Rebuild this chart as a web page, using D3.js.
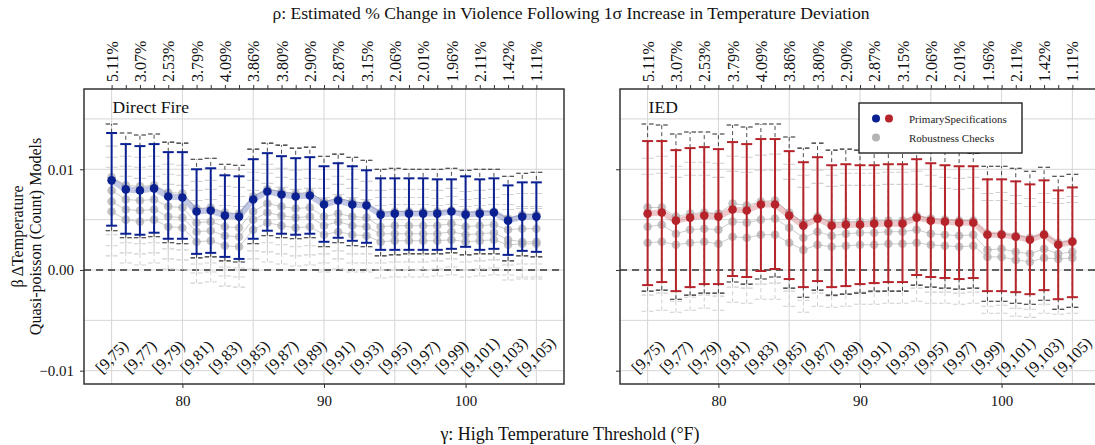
<!DOCTYPE html>
<html>
<head>
<meta charset="utf-8">
<script src="https://cdnjs.cloudflare.com/ajax/libs/d3/7.8.5/d3.min.js"></script>
<style>
  body { margin: 0; background: #fff; }
  svg { display: block; }
  svg text { font-family: "Liberation Serif", "Times New Roman", serif; }
</style>
</head>
<body>
<svg id="chart" width="1095" height="445"></svg>
<script>
"use strict";

// thresholds (gamma) and labels
var thresholds = [75,76,77,78,79,80,81,82,83,84,85,86,87,88,89,90,91,92,93,94,95,96,97,98,99,100,101,102,103,104,105];
var labelThresholds = [75,77,79,81,83,85,87,89,91,93,95,97,99,101,103,105];
var pctLabels = ["5.11%","3.07%","2.53%","3.79%","4.09%","3.86%","3.80%","2.90%","2.87%","3.15%","2.06%","2.01%","1.96%","2.11%","1.42%","1.11%"];
var binLabels = ["[9,75)","[9,77)","[9,79)","[9,81)","[9,83)","[9,85)","[9,87)","[9,89)","[9,91)","[9,93)","[9,95)","[9,97)","[9,99)","[9,101)","[9,103)","[9,105)"];
var yTicks = [-0.01, 0, 0.01];
var xTicks = [80, 90, 100];

// Direct Fire - primary specification
var dfEst = [0.0089,0.0080,0.0079,0.0081,0.0073,0.0072,0.0058,0.0059,0.0054,0.0053,0.0070,0.0078,0.0075,0.0073,0.0074,0.0065,0.0069,0.0065,0.0064,0.0055,0.0056,0.0056,0.0056,0.0056,0.0058,0.0055,0.0056,0.0057,0.0049,0.0053,0.0053];
var dfHi  = [0.0136,0.0125,0.0123,0.0125,0.0117,0.0117,0.0100,0.0101,0.0094,0.0093,0.0110,0.0116,0.0113,0.0111,0.0112,0.0103,0.0106,0.0103,0.0099,0.0091,0.0091,0.0091,0.0091,0.0090,0.0090,0.0093,0.0090,0.0091,0.0084,0.0087,0.0087];
var dfLo  = [0.0044,0.0036,0.0035,0.0037,0.0031,0.0031,0.0016,0.0017,0.0013,0.0011,0.0031,0.0039,0.0036,0.0035,0.0036,0.0028,0.0032,0.0029,0.0027,0.0020,0.0020,0.0020,0.0020,0.0020,0.0021,0.0023,0.0020,0.0021,0.0015,0.0019,0.0018];
// Direct Fire - robustness checks
var dfRob1 = [0.0092,0.0084,0.0083,0.0084,0.0077,0.0076,0.0061,0.0062,0.0057,0.0056,0.0073,0.0080,0.0078,0.0076,0.0077,0.0068,0.0071,0.0068,0.0066,0.0057,0.0058,0.0058,0.0058,0.0058,0.0059,0.0057,0.0058,0.0058,0.0051,0.0055,0.0055];
var dfRob2 = [0.0079,0.0070,0.0069,0.0070,0.0063,0.0062,0.0047,0.0048,0.0043,0.0042,0.0058,0.0066,0.0063,0.0061,0.0062,0.0053,0.0056,0.0053,0.0052,0.0043,0.0044,0.0044,0.0044,0.0044,0.0046,0.0043,0.0044,0.0045,0.0040,0.0041,0.0041];
var dfRob3 = [0.0068,0.0060,0.0059,0.0060,0.0053,0.0052,0.0038,0.0039,0.0034,0.0033,0.0050,0.0057,0.0054,0.0052,0.0053,0.0044,0.0048,0.0044,0.0043,0.0036,0.0036,0.0036,0.0036,0.0036,0.0038,0.0035,0.0036,0.0037,0.0030,0.0028,0.0028];
var dfRob4 = [0.0058,0.0050,0.0048,0.0050,0.0043,0.0042,0.0028,0.0029,0.0024,0.0023,0.0040,0.0047,0.0044,0.0042,0.0043,0.0035,0.0038,0.0035,0.0034,0.0028,0.0029,0.0029,0.0029,0.0029,0.0030,0.0028,0.0029,0.0030,0.0025,0.0026,0.0026];
var dfRobHalf = [0.0044,0.0043,0.0043,0.0043,0.0042,0.0042,0.0041,0.0041,0.0040,0.0040,0.0039,0.0039,0.0038,0.0038,0.0038,0.0037,0.0037,0.0037,0.0036,0.0036,0.0036,0.0036,0.0036,0.0035,0.0035,0.0035,0.0035,0.0035,0.0035,0.0035,0.0035];
var dfOuterHalf = [0.0053,0.0052,0.0051,0.0051,0.0050,0.0050,0.0049,0.0049,0.0048,0.0048,0.0047,0.0046,0.0046,0.0045,0.0045,0.0045,0.0044,0.0044,0.0043,0.0043,0.0043,0.0042,0.0042,0.0042,0.0042,0.0042,0.0042,0.0042,0.0042,0.0041,0.0042];

// IED - primary specification
var iedEst = [0.0056,0.0057,0.0049,0.0052,0.0054,0.0053,0.0060,0.0059,0.0065,0.0065,0.0054,0.0044,0.0051,0.0044,0.0045,0.0045,0.0046,0.0046,0.0046,0.0052,0.0049,0.0048,0.0047,0.0047,0.0035,0.0035,0.0033,0.0030,0.0035,0.0025,0.0028];
var iedHi  = [0.0128,0.0128,0.0119,0.0121,0.0122,0.0120,0.0127,0.0125,0.0130,0.0130,0.0118,0.0107,0.0112,0.0104,0.0105,0.0104,0.0104,0.0105,0.0105,0.0110,0.0106,0.0104,0.0103,0.0103,0.0090,0.0090,0.0088,0.0085,0.0089,0.0079,0.0082];
var iedLo  = [-0.0015,-0.0012,-0.0021,-0.0017,-0.0014,-0.0014,-0.0006,-0.0007,-0.0001,0.0001,-0.0009,-0.0017,-0.0011,-0.0017,-0.0016,-0.0014,-0.0013,-0.0012,-0.0012,-0.0005,-0.0007,-0.0008,-0.0009,-0.0008,-0.0021,-0.0021,-0.0022,-0.0024,-0.0020,-0.0029,-0.0027];
// IED - robustness checks
var iedRob1 = [0.0062,0.0062,0.0053,0.0056,0.0057,0.0056,0.0066,0.0064,0.0068,0.0069,0.0057,0.0047,0.0053,0.0047,0.0048,0.0048,0.0049,0.0049,0.0049,0.0054,0.0051,0.0050,0.0049,0.0049,0.0036,0.0036,0.0034,0.0032,0.0036,0.0027,0.0029];
var iedRob2 = [0.0043,0.0045,0.0036,0.0040,0.0041,0.0040,0.0048,0.0047,0.0050,0.0051,0.0042,0.0032,0.0038,0.0034,0.0036,0.0037,0.0037,0.0038,0.0038,0.0040,0.0036,0.0035,0.0034,0.0035,0.0020,0.0021,0.0018,0.0016,0.0021,0.0016,0.0018];
var iedRob3 = [0.0027,0.0028,0.0025,0.0027,0.0028,0.0026,0.0033,0.0032,0.0035,0.0035,0.0027,0.0020,0.0025,0.0023,0.0024,0.0025,0.0025,0.0026,0.0026,0.0027,0.0025,0.0024,0.0023,0.0024,0.0013,0.0013,0.0010,0.0008,0.0012,0.0011,0.0012];
var iedRobHalf = [0.0068,0.0068,0.0067,0.0067,0.0066,0.0066,0.0065,0.0065,0.0064,0.0064,0.0063,0.0062,0.0061,0.0060,0.0060,0.0059,0.0059,0.0059,0.0059,0.0058,0.0058,0.0057,0.0057,0.0057,0.0056,0.0056,0.0056,0.0055,0.0055,0.0055,0.0055];
var iedOuterHalf = [0.0083,0.0082,0.0082,0.0081,0.0080,0.0079,0.0078,0.0078,0.0077,0.0076,0.0075,0.0074,0.0073,0.0072,0.0072,0.0071,0.0070,0.0070,0.0070,0.0069,0.0068,0.0068,0.0068,0.0067,0.0067,0.0067,0.0067,0.0066,0.0066,0.0066,0.0066];

var Chart = (function(){
	var svg = {},
		top = 89,
		bottom = 384,
		panelW = 480,
		y = d3.scaleLinear().domain([-0.01132, 0.01797]).range([bottom, top]);

	function init(el) {
		svg = d3.select("#" + el);

		drawPanel({
			left: 84, name: "Direct Fire", color: "#0b2191",
			est: dfEst, lo: dfLo, hi: dfHi,
			robust: [dfRob1, dfRob2, dfRob3, dfRob4],
			robHalf: dfRobHalf, outerHalf: dfOuterHalf, yLabels: true
		});
		drawPanel({
			left: 620, name: "IED", color: "#b5242a",
			est: iedEst, lo: iedLo, hi: iedHi,
			robust: [iedRob1, iedRob2, iedRob3],
			robHalf: iedRobHalf, outerHalf: iedOuterHalf, yLabels: false
		});
		drawLegend();
		drawTitles();
	}

	// d3 axes put sans-serif on the group, strip it so the serif face is used
	function styleAxis(a, size) {
		a.attr("font-family", null).attr("font-size", size);
		a.select(".domain").remove();
		a.selectAll("line").attr("stroke", "#333");
		a.selectAll("text").attr("fill", "#111");
	}

	function drawPanel(p) {
		var x = d3.scaleLinear().domain([73.05, 106.95]).range([p.left, p.left + panelW]);
		var g = svg.append("g");

		// grid
		var grid = g.append("g");
		grid.selectAll("line.gy")
			.data([-0.01, -0.005, 0, 0.005, 0.01, 0.015])
			.enter().append("line")
			.attr("x1", p.left).attr("x2", p.left + panelW)
			.attr("y1", function(d) { return y(d); })
			.attr("y2", function(d) { return y(d); })
			.attr("stroke", "#d6d6d6").attr("stroke-width", 1);
		grid.selectAll("line.gx")
			.data([75, 80, 85, 90, 95, 100, 105])
			.enter().append("line")
			.attr("y1", top).attr("y2", bottom)
			.attr("x1", function(d) { return x(d); })
			.attr("x2", function(d) { return x(d); })
			.attr("stroke", "#d6d6d6").attr("stroke-width", 1);

		// zero line
		g.append("line")
			.attr("x1", p.left).attr("x2", p.left + panelW)
			.attr("y1", y(0)).attr("y2", y(0))
			.attr("stroke", "#333").attr("stroke-width", 1.4)
			.attr("stroke-dasharray", "7,5");

		// robustness intervals: light ones first, then the dark dashed one
		var rob = g.append("g");
		for (var s = p.robust.length - 1; s >= 0; s--) {
			var series = p.robust[s],
				half = s === 0 ? p.outerHalf : p.robHalf,
				col = s === 0 ? "#222" : "#cfcfcf",
				capCol = s === 0 ? "#222" : "#d0d0d0";
			var bars = rob.append("g").selectAll("g")
				.data(thresholds)
				.enter().append("g");
			bars.append("line")
				.attr("x1", function(d) { return x(d); })
				.attr("x2", function(d) { return x(d); })
				.attr("y1", function(d, i) { return y(series[i] - half[i]); })
				.attr("y2", function(d, i) { return y(series[i] + half[i]); })
				.attr("stroke", col).attr("stroke-width", 1)
				.attr("stroke-dasharray", "4,3")
				.attr("opacity", s === 0 ? 0.8 : 1);
			[-1, 1].forEach(function(sign) {
				bars.append("line")
					.attr("x1", function(d) { return x(d) - 6; })
					.attr("x2", function(d) { return x(d) + 6; })
					.attr("y1", function(d, i) { return y(series[i] + sign * half[i]); })
					.attr("y2", function(d, i) { return y(series[i] + sign * half[i]); })
					.attr("stroke", capCol).attr("stroke-width", 1.1)
					.attr("stroke-dasharray", "4.5,3");
			});
		}

		// robustness lines and points
		p.robust.forEach(function(series) {
			var line = d3.line()
				.x(function(d) { return x(d); })
				.y(function(d, i) { return y(series[i]); });
			rob.append("path")
				.attr("d", line(thresholds))
				.attr("fill", "none")
				.attr("stroke", "#cccccc").attr("stroke-width", 1);
		});
		p.robust.forEach(function(series) {
			rob.append("g").selectAll("circle")
				.data(thresholds)
				.enter().append("circle")
				.attr("cx", function(d) { return x(d); })
				.attr("cy", function(d, i) { return y(series[i]); })
				.attr("r", 4.3)
				.attr("fill", "#a9a9a9").attr("opacity", 0.7);
		});

		// primary specification
		var prim = g.append("g");
		prim.append("path")
			.attr("d", d3.line()
				.x(function(d) { return x(d); })
				.y(function(d, i) { return y(p.est[i]); })(thresholds))
			.attr("fill", "none")
			.attr("stroke", p.color).attr("stroke-opacity", 0.25)
			.attr("stroke-width", 6).attr("stroke-linejoin", "round");
		var eb = prim.selectAll("g.eb")
			.data(thresholds)
			.enter().append("g");
		eb.append("line")
			.attr("x1", function(d) { return x(d); })
			.attr("x2", function(d) { return x(d); })
			.attr("y1", function(d, i) { return y(p.lo[i]); })
			.attr("y2", function(d, i) { return y(p.hi[i]); })
			.attr("stroke", p.color).attr("stroke-width", 2);
		[p.lo, p.hi].forEach(function(arr) {
			eb.append("line")
				.attr("x1", function(d) { return x(d) - 5.5; })
				.attr("x2", function(d) { return x(d) + 5.5; })
				.attr("y1", function(d, i) { return y(arr[i]); })
				.attr("y2", function(d, i) { return y(arr[i]); })
				.attr("stroke", p.color).attr("stroke-width", 2);
		});
		prim.selectAll("circle")
			.data(thresholds)
			.enter().append("circle")
			.attr("cx", function(d) { return x(d); })
			.attr("cy", function(d, i) { return y(p.est[i]); })
			.attr("r", 4.3)
			.attr("fill", p.color);

		// bin labels inside panel
		g.append("g").selectAll("text")
			.data(labelThresholds)
			.enter().append("text")
			.attr("transform", function(d) { return "translate(" + x(d) + "," + y(-0.0086) + ") rotate(-45)"; })
			.attr("text-anchor", "middle")
			.attr("dy", "0.35em")
			.attr("font-size", 16)
			.attr("fill", "#111")
			.text(function(d, i) { return binLabels[i]; });

		// panel name
		g.append("text")
			.attr("x", x(75) + 1).attr("y", 113)
			.attr("font-size", 17.5).attr("fill", "#111")
			.text(p.name);

		// border
		g.append("rect")
			.attr("x", p.left).attr("y", top)
			.attr("width", panelW).attr("height", bottom - top)
			.attr("fill", "none").attr("stroke", "#333").attr("stroke-width", 1.5);

		// axes
		var topAxis = d3.axisTop(x)
			.tickValues(thresholds)
			.tickSize(4)
			.tickFormat(function(d) {
				var k = labelThresholds.indexOf(d);
				return k < 0 ? "" : pctLabels[k];
			});
		var ta = g.append("g").attr("transform", "translate(0," + top + ")").call(topAxis);
		styleAxis(ta, 16);
		ta.selectAll("text")
			.attr("transform", "rotate(-90)")
			.attr("x", 7).attr("y", 0).attr("dy", "0.35em")
			.style("text-anchor", "start");

		var bAxis = d3.axisBottom(x).tickValues(xTicks).tickSize(4).tickPadding(7).tickFormat(d3.format("d"));
		var ba = g.append("g").attr("transform", "translate(0," + bottom + ")").call(bAxis);
		styleAxis(ba, 15);

		var lAxis = d3.axisLeft(y).tickValues(yTicks).tickSize(4).tickPadding(6)
			.tickFormat(function(d) { return p.yLabels ? d3.format(".2f")(d) : ""; });
		var la = g.append("g").attr("transform", "translate(" + p.left + ",0)").call(lAxis);
		styleAxis(la, 15);
	}

	function drawLegend() {
		var lg = svg.append("g").attr("transform", "translate(859,103)");
		lg.append("rect")
			.attr("width", 163).attr("height", 50)
			.attr("fill", "#fff").attr("stroke", "#111").attr("stroke-width", 1.3);
		lg.append("circle").attr("cx", 17).attr("cy", 15.5).attr("r", 4).attr("fill", "#0b2191");
		lg.append("circle").attr("cx", 30).attr("cy", 15.5).attr("r", 4).attr("fill", "#b5242a");
		lg.append("circle").attr("cx", 17).attr("cy", 34.5).attr("r", 4).attr("fill", "#b4b4b4");
		lg.append("text").attr("x", 50).attr("y", 19.5).attr("font-size", 11).attr("fill", "#222").text("PrimarySpecifications");
		lg.append("text").attr("x", 50).attr("y", 38.5).attr("font-size", 11).attr("fill", "#222").text("Robustness Checks");
	}

	function drawTitles() {
		svg.append("text")
			.attr("x", 571).attr("y", 19)
			.attr("text-anchor", "middle").attr("font-size", 17.6).attr("fill", "#111")
			.text("ρ: Estimated % Change in Violence Following 1σ Increase in Temperature Deviation");
		svg.append("text")
			.attr("x", 570).attr("y", 440)
			.attr("text-anchor", "middle").attr("font-size", 18).attr("fill", "#111")
			.text("γ: High Temperature Threshold (°F)");
		var yl = svg.append("text")
			.attr("transform", "translate(0,236.5) rotate(-90)")
			.attr("text-anchor", "middle").attr("font-size", 16).attr("fill", "#111");
		yl.append("tspan").attr("x", 0).attr("y", 23).text("β ΔTemperature");
		yl.append("tspan").attr("x", 0).attr("y", 41).text("Quasi-poisson (Count) Models");
	}

	return {
		"init": init
	};
}());

Chart.init("chart");
</script>
</body>
</html>
